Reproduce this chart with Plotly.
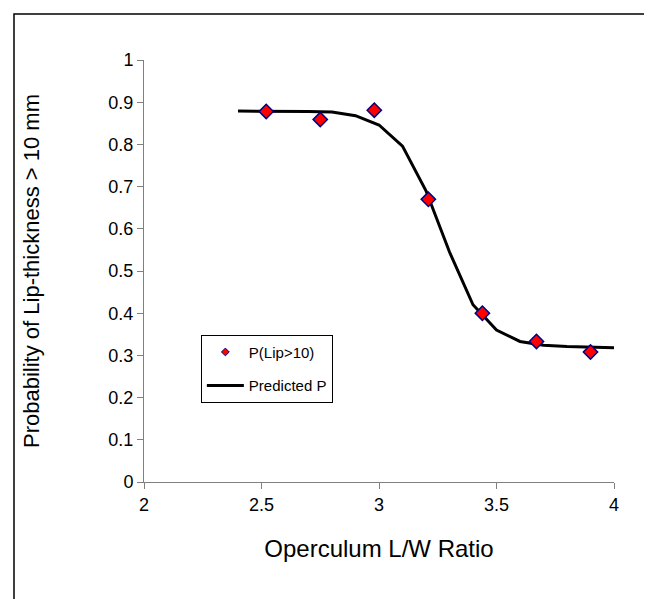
import plotly.graph_objects as go

# Observed data
obs_x = [2.52, 2.75, 2.98, 3.21, 3.44, 3.67, 3.90]
obs_p = [0.878, 0.859, 0.881, 0.670, 0.400, 0.333, 0.308]

# Predicted curve
pred_x = [2.4, 2.5, 2.6, 2.7, 2.8, 2.9, 3.0, 3.1, 3.2, 3.3, 3.4, 3.5, 3.6, 3.7, 3.8, 3.9, 4.0]
pred_p = [0.879, 0.879, 0.878, 0.878, 0.877, 0.868, 0.846, 0.796, 0.690, 0.545, 0.420,
          0.360, 0.333, 0.324, 0.321, 0.319, 0.318]

x_ticks = [2, 2.5, 3, 3.5, 4]
x_tick_text = ["2", "2.5", "3", "3.5", "4"]
y_ticks = [0, 0.1, 0.2, 0.3, 0.4, 0.5, 0.6, 0.7, 0.8, 0.9, 1]
y_tick_text = ["0", "0.1", "0.2", "0.3", "0.4", "0.5", "0.6", "0.7", "0.8", "0.9", "1"]

FONT = "Liberation Sans, Arial, sans-serif"
MARKER_FILL = "#FF0000"
MARKER_EDGE = "#000080"

fig = go.Figure()
# predicted curve (drawn first, below markers)
fig.add_trace(go.Scatter(
    x=pred_x, y=pred_p, mode="lines", name="Predicted P",
    line=dict(color="black", width=3), legendgroup="b", legendrank=2,
))
# observed points
fig.add_trace(go.Scatter(
    x=obs_x, y=obs_p, mode="markers", name="P(Lip>10)",
    marker=dict(symbol="diamond", size=11, color=MARKER_FILL,
                line=dict(color=MARKER_EDGE, width=1.5)),
    legendgroup="a", showlegend=False,
))
# legend entry for observed points (smaller symbol, as in the original legend)
fig.add_trace(go.Scatter(
    x=[None], y=[None], mode="markers", name="P(Lip>10)",
    marker=dict(symbol="diamond", size=6, color=MARKER_FILL,
                line=dict(color=MARKER_EDGE, width=1)),
    legendgroup="a", legendrank=1, hoverinfo="skip",
))

fig.update_layout(
    width=652, height=599,
    margin=dict(l=136, r=46, t=52, b=125),
    paper_bgcolor="white", plot_bgcolor="white",
    font=dict(family=FONT, color="black"),
    showlegend=True,
    legend=dict(
        x=0.121, y=0.349, xanchor="left", yanchor="top",
        bordercolor="black", borderwidth=1, bgcolor="white",
        font=dict(size=15, family=FONT), traceorder="grouped",
        tracegroupgap=11, itemwidth=37,
    ),
    xaxis=dict(
        range=[2, 4], tickvals=x_ticks, ticktext=x_tick_text,
        showgrid=False, zeroline=False, showline=True, linecolor="#808080", linewidth=1,
        ticks="outside", ticklen=6, tickcolor="#808080",
        tickfont=dict(size=18),
        title=dict(text="Operculum L/W Ratio", font=dict(size=24), standoff=26),
    ),
    yaxis=dict(
        range=[0, 1], tickvals=y_ticks, ticktext=y_tick_text,
        showgrid=False, zeroline=False, showline=True, linecolor="#808080", linewidth=1,
        ticks="outside", ticklen=6, tickcolor="#808080",
        tickfont=dict(size=18),
        title=dict(text="Probability of Lip-thickness > 10 mm", font=dict(size=22), standoff=62),
    ),
    shapes=[dict(
        type="rect", xref="paper", yref="paper",
        x0=(6 - 136) / 470, x1=(650 - 136) / 470,
        y0=(474 - 597) / 422, y1=1 + (52 - 6) / 422,
        line=dict(color="black", width=1.5), fillcolor="rgba(0,0,0,0)", layer="below",
    )],
)

fig.write_html("out.html")
